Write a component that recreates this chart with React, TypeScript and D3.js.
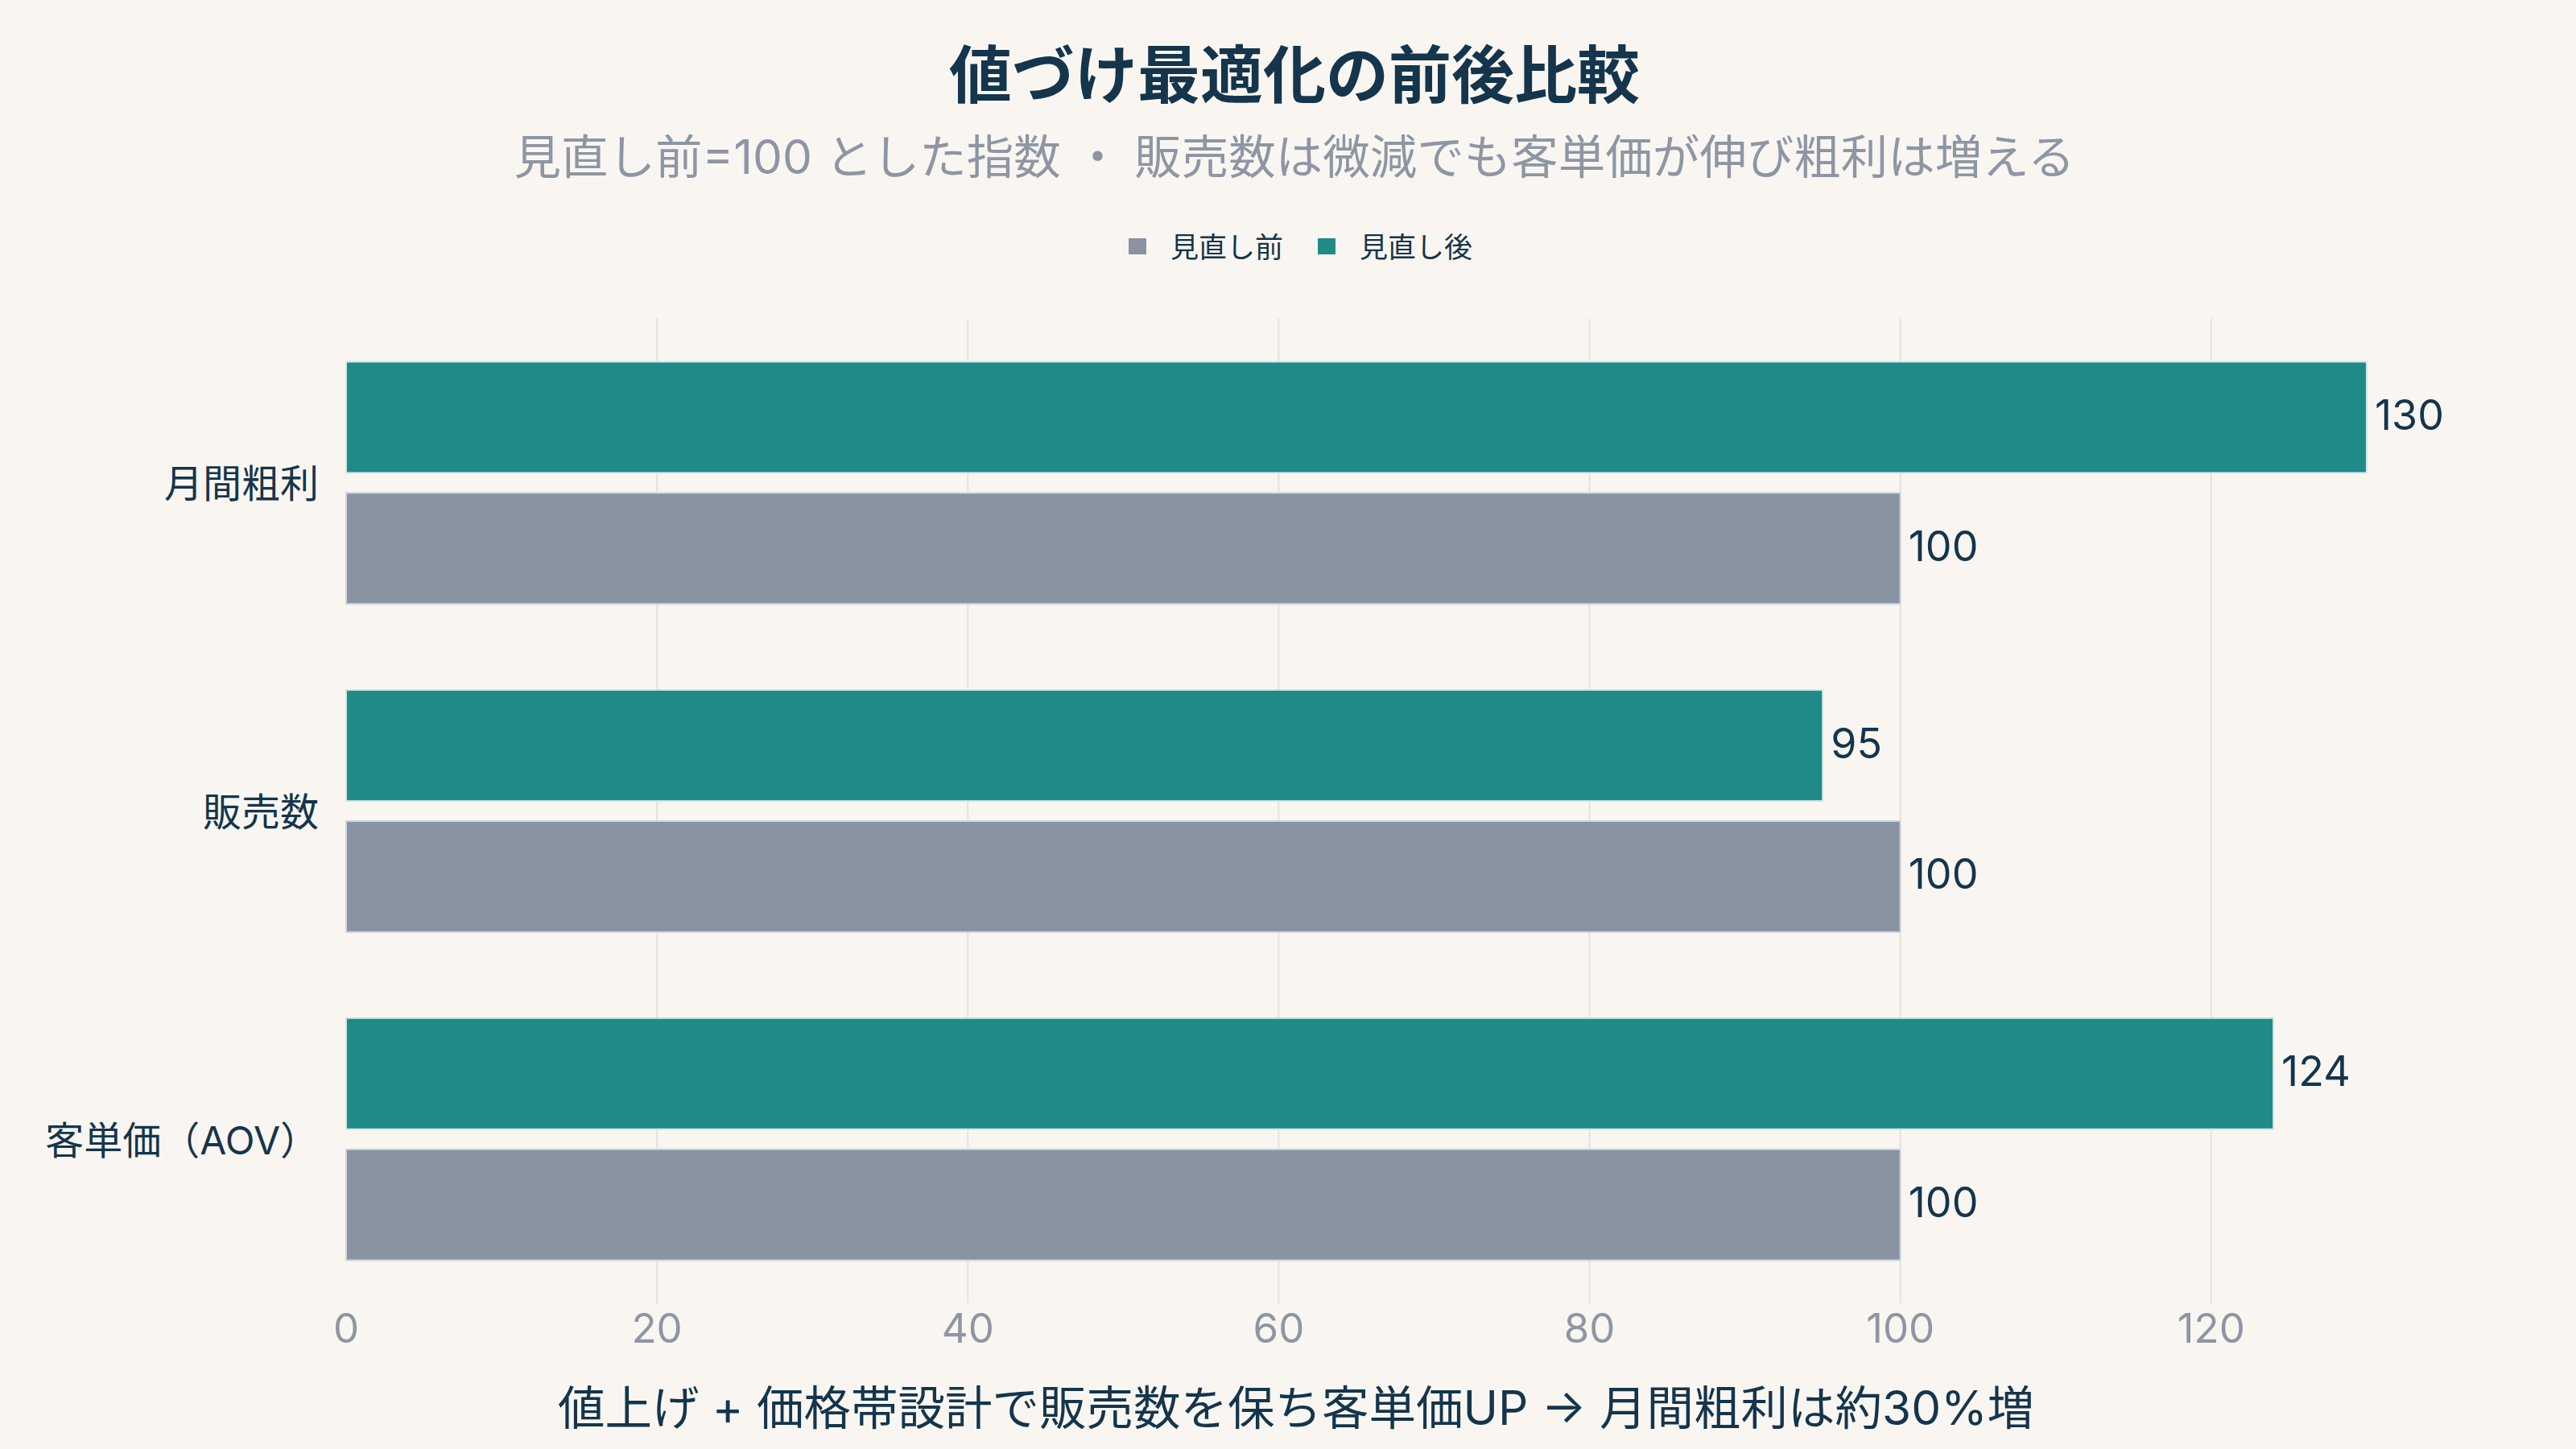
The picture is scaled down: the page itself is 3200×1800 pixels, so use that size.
import { useEffect, useRef } from 'react';
import * as d3 from 'd3';

const categories = ['月間粗利', '販売数', '客単価（AOV）'];
const seriesKeys = ['after', 'before'];
const seriesLabels: Record<string, string> = { before: '見直し前', after: '見直し後' };
const afterValues = [130, 95, 124];
const beforeValues = [100, 100, 100];
const xTicks = [0, 20, 40, 60, 80, 100, 120];

const titleText = '値づけ最適化の前後比較';
const subtitleText = '見直し前=100 とした指数 ・ 販売数は微減でも客単価が伸び粗利は増える';
const footerText = '値上げ + 価格帯設計で販売数を保ち客単価UP → 月間粗利は約30%増';

const colors: Record<string, string> = { before: '#8a93a1', after: '#1f8a88' };
const FONT = '"Noto Sans CJK JP", "Noto Sans", sans-serif';
const MIXED = 'Inter, "Noto Sans CJK JP", sans-serif';
const WIDTH = 3200;
const HEIGHT = 1800;

export default function App() {
  const svgRef = useRef<SVGSVGElement>(null);

  useEffect(() => {
    if (!svgRef.current) return;
    const svg = d3.select(svgRef.current);
    svg.selectAll('*').remove();

    const plot = { left: 430, right: 3133, top: 396, bottom: 1619 };

    const x = d3.scaleLinear().domain([0, 140]).range([plot.left, plot.right]);
    const y = d3
      .scaleBand<string>()
      .domain(categories)
      .range([plot.top, plot.bottom])
      .paddingInner(0.262)
      .paddingOuter(0.131);
    const ySub = d3
      .scaleBand<string>()
      .domain(seriesKeys)
      .range([0, y.bandwidth()])
      .paddingInner(0.153);

    svg
      .append('rect')
      .attr('width', WIDTH)
      .attr('height', HEIGHT)
      .attr('fill', '#f9f6f1');

    // ── Title block ──
    svg
      .append('text')
      .attr('x', WIDTH / 2 + 8)
      .attr('y', 88)
      .attr('text-anchor', 'middle')
      .attr('dominant-baseline', 'central')
      .attr('font-family', FONT)
      .attr('font-weight', 700)
      .attr('font-size', 78)
      .attr('fill', '#14354c')
      .text(titleText);

    svg
      .append('text')
      .attr('x', WIDTH / 2 + 8)
      .attr('y', 194)
      .attr('text-anchor', 'middle')
      .attr('dominant-baseline', 'central')
      .attr('font-family', MIXED)
      .attr('font-size', 58.5)
      .attr('fill', '#8e96a4')
      .text(subtitleText);

    // ── Legend ──
    const legendOrder = ['before', 'after'];
    const legendX = [1402, 1637];
    legendOrder.forEach((k, i) => {
      const g = svg.append('g').attr('transform', `translate(${legendX[i]},306)`);
      g.append('rect')
        .attr('x', 0)
        .attr('y', -10)
        .attr('width', 22)
        .attr('height', 20)
        .attr('fill', colors[k]);
      g.append('text')
        .attr('x', 52)
        .attr('y', -2)
        .attr('dominant-baseline', 'central')
        .attr('font-family', FONT)
        .attr('font-size', 35)
        .attr('fill', '#14354c')
        .text(seriesLabels[k]);
    });

    // ── Grid ──
    svg
      .append('g')
      .selectAll('line')
      .data(xTicks.filter((t) => t > 0))
      .join('line')
      .attr('x1', (d) => x(d))
      .attr('x2', (d) => x(d))
      .attr('y1', plot.top)
      .attr('y2', plot.bottom)
      .attr('stroke', '#e7e2da')
      .attr('stroke-width', 2);

    // ── Bars ──
    const rows = categories.map((c, i) => ({
      category: c,
      values: [
        { key: 'after', value: afterValues[i] },
        { key: 'before', value: beforeValues[i] },
      ],
    }));

    const groups = svg
      .append('g')
      .selectAll('g')
      .data(rows)
      .join('g')
      .attr('transform', (d) => `translate(0,${y(d.category)})`);

    groups
      .selectAll('rect')
      .data((d) => d.values)
      .join('rect')
      .attr('x', x(0))
      .attr('y', (d) => ySub(d.key)!)
      .attr('width', (d) => x(d.value) - x(0))
      .attr('height', ySub.bandwidth())
      .attr('fill', (d) => colors[d.key])
      .attr('stroke', (d) => (d.key === 'after' ? '#cfe6e6' : '#cfd6e2'))
      .attr('stroke-width', 2);

    groups
      .selectAll('text.value')
      .data((d) => d.values)
      .join('text')
      .attr('class', 'value')
      .attr('x', (d) => x(d.value) + 10)
      .attr('y', (d) => ySub(d.key)! + ySub.bandwidth() / 2 - 3)
      .attr('dominant-baseline', 'central')
      .attr('font-family', MIXED)
      .attr('font-size', 52)
      .attr('fill', '#14354c')
      .text((d) => d.value);

    // ── Category labels ──
    svg
      .append('g')
      .selectAll('text')
      .data(categories)
      .join('text')
      .attr('x', plot.left - 34)
      .attr('y', (d) => y(d)! + y.bandwidth() / 2 + 1)
      .attr('text-anchor', 'end')
      .attr('dominant-baseline', 'central')
      .attr('font-family', MIXED)
      .attr('font-size', 48)
      .attr('fill', '#14354c')
      .text((d) => d);

    // ── X tick labels ──
    svg
      .append('g')
      .selectAll('text')
      .data(xTicks)
      .join('text')
      .attr('x', (d) => x(d))
      .attr('y', 1649)
      .attr('text-anchor', 'middle')
      .attr('dominant-baseline', 'central')
      .attr('font-family', MIXED)
      .attr('font-size', 51)
      .attr('fill', '#8e96a4')
      .text((d) => d);

    // ── Footer ──
    svg
      .append('text')
      .attr('x', WIDTH / 2 + 10)
      .attr('y', 1748)
      .attr('text-anchor', 'middle')
      .attr('dominant-baseline', 'central')
      .attr('font-family', MIXED)
      .attr('font-size', 58.5)
      .attr('fill', '#14354c')
      .text(footerText);
  }, []);

  return (
    <svg
      ref={svgRef}
      width={WIDTH}
      height={HEIGHT}
      style={{ position: 'absolute', left: 0, top: 0, display: 'block' }}
    />
  );
}
